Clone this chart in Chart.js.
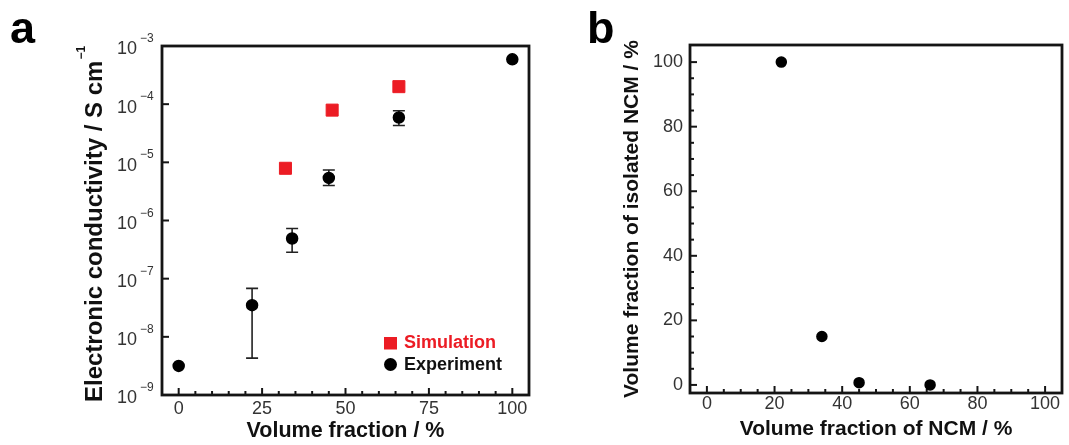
<!DOCTYPE html>
<html>
<head>
<meta charset="utf-8">
<script src="https://cdn.jsdelivr.net/npm/chart.js@4/dist/chart.umd.min.js"></script>
<style>
html, body { margin: 0; padding: 0; background: #fff; width: 1069px; height: 445px; overflow: hidden; }
.wrap { position: absolute; top: 0; height: 445px; }
#wa { left: 0; width: 540px; }
#wb { left: 540px; width: 529px; }
canvas { display: block; }
</style>
</head>
<body>
<div class="wrap" id="wa"><canvas id="ca" width="540" height="445"></canvas></div>
<div class="wrap" id="wb"><canvas id="cb" width="529" height="445"></canvas></div>
<script>
const FONT = "'Liberation Sans', Arial, Helvetica, sans-serif";
const RED = '#ec1c24';

// ---- Panel a data ----
const expX = [0, 22, 34, 45, 66, 100];
const expY = [3.16e-9, 3.5e-8, 4.9e-7, 5.4e-6, 5.9e-5, 5.9e-4];
const expErrLow = [null, 4.3e-9, 2.84e-7, 4.0e-6, 4.3e-5, null];
const expErrHigh = [null, 6.8e-8, 7.3e-7, 7.4e-6, 7.7e-5, null];
const simX = [32, 46, 66];
const simY = [7.9e-6, 7.9e-5, 2.0e-4];
const xTicksA = [0, 25, 50, 75, 100];
const yExpA = [-9, -8, -7, -6, -5, -4, -3];

// ---- Panel b data ----
const isoX = [22, 34, 45, 66];
const isoY = [100, 15, 0.7, 0];
const xTicksB = [0, 20, 40, 60, 80, 100];
const yTicksB = [0, 20, 40, 60, 80, 100];

function minorsOf(majors, step, lo, hi) {
  const out = [];
  for (let v = lo; v <= hi + 1e-9; v += step) if (!majors.includes(v)) out.push(v);
  return out;
}
const xMinorA = minorsOf(xTicksA, 5, 0, 100);
const xMinorB = minorsOf(xTicksB, 5, 0, 100);
const yMinorB = minorsOf(yTicksB, 5, 0, 100);

Chart.defaults.font.family = FONT;

function frameTicks(cfg) {
  return {
    id: 'frameTicks',
    beforeDatasetsDraw(chart) {
      const { ctx, chartArea: a, scales: { x, y } } = chart;
      ctx.save();
      ctx.strokeStyle = '#151515';
      ctx.lineWidth = 2;
      const xs = (vals, len) => vals.forEach(v => {
        const p = x.getPixelForValue(v);
        ctx.beginPath(); ctx.moveTo(p, a.bottom); ctx.lineTo(p, a.bottom - len); ctx.stroke();
      });
      const ys = (vals, len) => vals.forEach(v => {
        const p = y.getPixelForValue(v);
        ctx.beginPath(); ctx.moveTo(a.left, p); ctx.lineTo(a.left + len, p); ctx.stroke();
      });
      xs(cfg.xMajor, 7); xs(cfg.xMinor, 4);
      ys(cfg.yMajor, 7); ys(cfg.yMinor, 4);
      ctx.lineWidth = 2.8;
      ctx.strokeRect(a.left, a.top, a.right - a.left, a.bottom - a.top);
      ctx.restore();
    }
  };
}

const errorBars = {
  id: 'errorBars',
  beforeDatasetsDraw(chart) {
    const { ctx, scales: { x, y } } = chart;
    ctx.save();
    ctx.strokeStyle = '#222';
    ctx.lineWidth = 1.6;
    expX.forEach((xv, i) => {
      if (expErrLow[i] == null) return;
      const px = x.getPixelForValue(xv);
      const y1 = y.getPixelForValue(expErrLow[i]);
      const y2 = y.getPixelForValue(expErrHigh[i]);
      ctx.beginPath();
      ctx.moveTo(px, y1); ctx.lineTo(px, y2);
      ctx.moveTo(px - 6, y1); ctx.lineTo(px + 6, y1);
      ctx.moveTo(px - 6, y2); ctx.lineTo(px + 6, y2);
      ctx.stroke();
    });
    ctx.restore();
  }
};

const decorA = {
  id: 'decorA',
  afterDraw(chart) {
    const { ctx, chartArea: a, scales: { y } } = chart;
    ctx.save();
    // y tick labels 10^n
    ctx.fillStyle = '#333';
    yExpA.forEach(e => {
      const p = y.getPixelForValue(Math.pow(10, e));
      ctx.font = '18px ' + FONT; ctx.textAlign = 'right'; ctx.textBaseline = 'middle';
      ctx.fillText('10', a.left - 25, p + 3.5);
      ctx.font = '12px ' + FONT; ctx.textAlign = 'left'; ctx.textBaseline = 'alphabetic';
      ctx.fillText('\u2212' + Math.abs(e), a.left - 22, p - 4);
    });
    // legend
    ctx.fillStyle = RED;
    ctx.fillRect(384, 337, 13, 12.5);
    ctx.fillStyle = '#000';
    ctx.beginPath(); ctx.arc(390.5, 364.5, 6.5, 0, Math.PI * 2); ctx.fill();
    ctx.font = 'bold 18px ' + FONT; ctx.textAlign = 'left'; ctx.textBaseline = 'middle';
    ctx.fillStyle = RED; ctx.fillText('Simulation', 404, 343.5);
    ctx.fillStyle = '#111'; ctx.fillText('Experiment', 404, 365);
    // panel letter
    ctx.font = 'bold 45px ' + FONT; ctx.textBaseline = 'alphabetic';
    ctx.fillStyle = '#000'; ctx.fillText('a', 10, 43);
    // y title
    ctx.fillStyle = '#111';
    ctx.translate(102, 402); ctx.rotate(-Math.PI / 2);
    ctx.font = 'bold 24px ' + FONT; ctx.textAlign = 'left'; ctx.textBaseline = 'alphabetic';
    const main = 'Electronic conductivity / S cm';
    ctx.fillText(main, 0, 0);
    const w = ctx.measureText(main).width;
    ctx.font = 'bold 12px ' + FONT;
    ctx.fillText('\u22121', w + 1, -17);
    ctx.restore();
  }
};

const decorB = {
  id: 'decorB',
  afterDraw(chart) {
    const { ctx } = chart;
    ctx.save();
    ctx.font = 'bold 45px ' + FONT; ctx.textBaseline = 'alphabetic'; ctx.textAlign = 'left';
    ctx.fillStyle = '#000'; ctx.fillText('b', 47, 43);
    ctx.restore();
  }
};

new Chart(document.getElementById('ca'), {
  type: 'scatter',
  data: {
    datasets: [
      {
        label: 'Simulation',
        data: simX.map((x, i) => ({ x, y: simY[i] })),
        pointStyle: 'rect', pointRadius: 8.5, pointHoverRadius: 8.5,
        backgroundColor: RED, borderColor: RED, borderWidth: 1
      },
      {
        label: 'Experiment',
        data: expX.map((x, i) => ({ x, y: expY[i] })),
        pointStyle: 'circle', pointRadius: 5.5, pointHoverRadius: 5.5,
        backgroundColor: '#000', borderColor: '#000', borderWidth: 1.5
      }
    ]
  },
  options: {
    responsive: false, animation: false, devicePixelRatio: 1,
    layout: { padding: { left: 0, top: 46, right: 11, bottom: 0 } },
    plugins: { legend: { display: false }, tooltip: { enabled: false } },
    scales: {
      x: {
        type: 'linear', min: -5, max: 105,
        grid: { display: false, drawTicks: false }, border: { display: false },
        afterBuildTicks: s => { s.ticks = xTicksA.map(v => ({ value: v })); },
        afterFit: s => { s.height = 50; },
        ticks: { padding: 3, font: { size: 18 }, color: '#333', maxRotation: 0, autoSkip: false },
        title: { display: true, text: 'Volume fraction / %', font: { size: 21.5, weight: 'bold' }, color: '#111', padding: { top: 0, bottom: 1 } }
      },
      y: {
        type: 'logarithmic', min: 1e-9, max: 1e-3,
        grid: { display: false, drawTicks: false }, border: { display: false },
        ticks: { display: false },
        afterBuildTicks: s => { s.ticks = yExpA.map(e => ({ value: Math.pow(10, e) })); },
        afterFit: s => { s.width = 162; }
      }
    }
  },
  plugins: [frameTicks({ xMajor: xTicksA, xMinor: xMinorA, yMajor: yExpA.map(e => Math.pow(10, e)), yMinor: [] }), errorBars, decorA]
});

new Chart(document.getElementById('cb'), {
  type: 'scatter',
  data: {
    datasets: [
      {
        label: 'Isolated NCM',
        data: isoX.map((x, i) => ({ x, y: isoY[i] })),
        pointStyle: 'circle', pointRadius: 5, pointHoverRadius: 5,
        backgroundColor: '#000', borderColor: '#000', borderWidth: 1.5
      }
    ]
  },
  options: {
    responsive: false, animation: false, devicePixelRatio: 1,
    layout: { padding: { left: 0, top: 45, right: 7, bottom: 0 } },
    plugins: { legend: { display: false }, tooltip: { enabled: false } },
    scales: {
      x: {
        type: 'linear', min: -5, max: 105,
        grid: { display: false, drawTicks: false }, border: { display: false },
        afterBuildTicks: s => { s.ticks = xTicksB.map(v => ({ value: v })); },
        afterFit: s => { s.height = 52; },
        ticks: { padding: 0, font: { size: 18 }, color: '#333', maxRotation: 0, autoSkip: false },
        title: { display: true, text: 'Volume fraction of NCM / %', font: { size: 21, weight: 'bold' }, color: '#111', padding: { top: 0, bottom: 3 } }
      },
      y: {
        type: 'linear', min: -2.5, max: 105.3,
        grid: { display: false, drawTicks: false }, border: { display: false },
        afterBuildTicks: s => { s.ticks = yTicksB.map(v => ({ value: v })); },
        afterFit: s => { s.width = 150; },
        ticks: { padding: 7, font: { size: 18 }, color: '#333', autoSkip: false },
        title: { display: true, text: 'Volume fraction of isolated NCM / %', font: { size: 21, weight: 'bold' }, color: '#111', padding: { top: 80, bottom: 0 } }
      }
    }
  },
  plugins: [frameTicks({ xMajor: xTicksB, xMinor: xMinorB, yMajor: yTicksB, yMinor: yMinorB }), decorB]
});
</script>
</body>
</html>
